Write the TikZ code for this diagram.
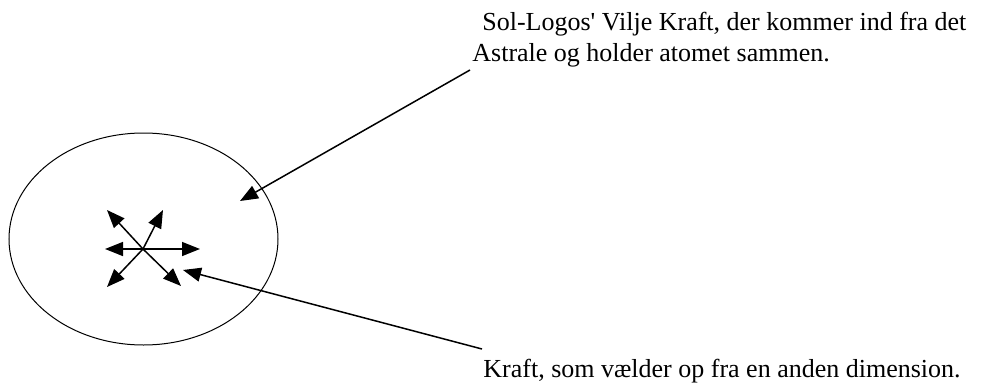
\documentclass[tikz,border=0pt]{standalone}
\usepackage{fontspec}
\setmainfont{Liberation Serif}
\usetikzlibrary{arrows.meta}

\tikzset{
  pil/.style={black, line width=0.75pt, -{Triangle[length=9pt,width=7pt]}},
  tekst/.style={anchor=base west, inner sep=0pt, font=\fontsize{13}{16}\selectfont}
}

\begin{document}
\begin{tikzpicture}[x=0.5pt, y=-0.5pt]
\useasboundingbox (0,0) rectangle (982,386);

% atomet
\draw[black, line width=0.5pt] (143.5,239) ellipse [x radius=134.5, y radius=106];

% kraften fra centrum
\coordinate (centrum) at (143,249);
\foreach \dx/\dy in {-36/-39, 20/-39, -38/0, 57/0, -36/38, 38/37}
 \draw[pil] (centrum) -- ++(\dx,\dy);

% tekster
\node[tekst] (sol) at (482,30) {Sol-Logos\textquotesingle{} Vilje Kraft, der kommer ind fra det};
\node[tekst] (astral) at (472,61) {Astrale og holder atomet sammen.};
\node[tekst] (kraft) at (483,377) {Kraft, som vælder op fra en anden dimension.};

% henvisninger
\coordinate (solstart) at (470,70);
\coordinate (solpil) at (240,201);
\draw[pil] (solstart) -- (solpil);
\coordinate (kraftstart) at (482,349);
\coordinate (kraftpil) at (183,270);
\draw[pil] (kraftstart) -- (kraftpil);

\end{tikzpicture}
\end{document}
